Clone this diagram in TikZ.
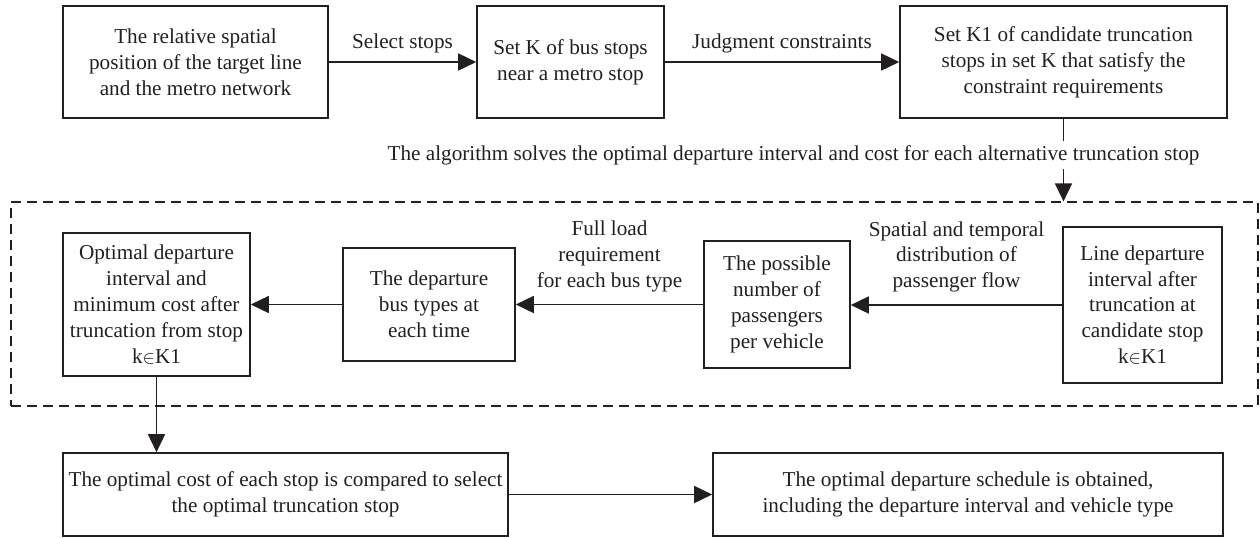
\documentclass[tikz,border=0pt]{standalone}
\usepackage{fontspec}
\setmainfont{Liberation Serif}
\usetikzlibrary{arrows.meta}
\definecolor{ink}{HTML}{231F20}
\begin{document}
\begin{tikzpicture}[x=0.5pt,y=-0.5pt,
  font=\fontsize{10.6}{12.9}\selectfont,
  box/.style={draw=ink, line width=0.8pt, align=center, inner sep=0pt, text=ink},
  lab/.style={align=center, text=ink, inner sep=1pt},
  arr/.style={draw=ink, line width=0.8pt, -{Triangle[length=9pt,width=8.5pt]}},
  dashbox/.style={draw=ink, line width=0.6pt, dash pattern=on 5pt off 3pt, inner sep=0pt},
]
\useasboundingbox (0,0) rectangle (1260,537);
% top row
\node[box, minimum width=132.5pt, minimum height=56pt] (b1) at (195.5,62)
  {The relative spatial\\position of the target line\\and the metro network};
\node[box, minimum width=93.5pt, minimum height=56pt] (b2) at (570.5,62)
  {Set K of bus stops\\near a metro stop};
\node[box, minimum width=163.5pt, minimum height=56pt] (b3) at (1063.5,62)
  {Set K1 of candidate truncation\\stops in set K that satisfy the\\constraint requirements};
% dashed frame
\node[dashbox, minimum width=623.5pt, minimum height=102pt] (frame) at (634.5,304) {};
% middle row
\node[box, minimum width=93.5pt, minimum height=71.5pt] (m1) at (156.5,304.5)
  {Optimal departure\\interval and\\minimum cost after\\truncation from stop\\k{\small$\in$}K1};
\node[box, minimum width=86pt, minimum height=56.5pt] (m2) at (429,304.5)
  {The departure\\bus types at\\each time};
\node[box, minimum width=73pt, minimum height=63.5pt] (m3) at (777,304.5)
  {The possible\\number of\\passengers\\per vehicle};
\node[box, minimum width=79.5pt, minimum height=78pt] (m4) at (1142.5,305)
  {Line departure\\interval after\\truncation at\\candidate stop\\k{\small$\in$}K1};
% bottom row
\node[box, minimum width=222.5pt, minimum height=41.5pt] (c1) at (285.5,494.5)
  {The optimal cost of each stop is compared to select\\the optimal truncation stop};
\node[box, minimum width=255pt, minimum height=41.5pt] (c2) at (968,494.5)
  {The optimal departure schedule is obtained,\\including the departure interval and vehicle type};
% connectors
\draw[arr] (b1) -- node[lab, above=3pt] {Select stops} (b2);
\draw[arr] (b2) -- node[lab, above=3pt] {Judgment constraints} (b3);
\draw[arr] (b3.south) -- node[lab, fill=white, pos=0.44, xshift=-135pt, inner sep=2pt]
  {The algorithm solves the optimal departure interval and cost for each alternative truncation stop}
  (b3.south |- frame.north);
\draw[arr] (m4.west) -- node[lab, above=5pt] {Spatial and temporal\\distribution of\\passenger flow} (m3.east |- m4.west);
\draw[arr] (m3.west) -- node[lab, above=5pt] {Full load\\requirement\\for each bus type} (m2.east |- m3.west);
\draw[arr] (m2.west) -- (m1.east |- m2.west);
\draw[arr] (m1.south) -- (m1.south |- c1.north);
\draw[arr] (c1) -- (c2);
\end{tikzpicture}
\end{document}
